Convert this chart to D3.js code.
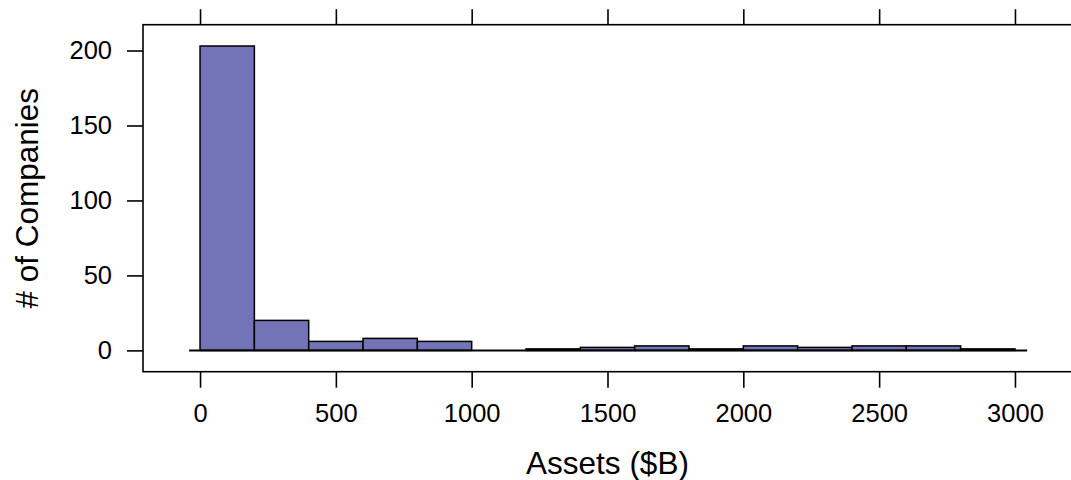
<!DOCTYPE html>
<html>
<head>
<meta charset="utf-8">
<script src="https://cdn.jsdelivr.net/npm/d3@7"></script>
<style>
  html, body { margin: 0; padding: 0; background: #fff; }
  svg { display: block; font-family: "Liberation Sans", Arial, Helvetica, sans-serif; }
</style>
</head>
<body>
<svg id="chart" width="1071" height="480"></svg>
<script>
// Histogram bins (Assets in $B) and company counts
const binStarts = [0, 200, 400, 600, 800, 1000, 1200, 1400, 1600, 1800, 2000, 2200, 2400, 2600, 2800];
const binEnds   = [200, 400, 600, 800, 1000, 1200, 1400, 1600, 1800, 2000, 2200, 2400, 2600, 2800, 3000];
const counts    = [203, 20, 6, 8, 6, 0, 1, 2, 3, 1, 3, 2, 3, 3, 1];
const xTicks = [0, 500, 1000, 1500, 2000, 2500, 3000];
const yTicks = [0, 50, 100, 150, 200];
const xTitle = "Assets ($B)";
const yTitle = "# of Companies";

(function () {
const svg = d3.select("#chart");
const pLeft = 143, pRight = 1072, pTop = 24.7, pBottom = 371.7;

const xDomain = [0 - 0.07 * 3000, 3000 + 0.07 * 3000];
const yMax = d3.max(counts);
const yDomain = [0 - 0.07 * yMax, yMax + 0.07 * yMax];

const x = d3.scaleLinear().domain(xDomain).range([pLeft, pRight]);
const y = d3.scaleLinear().domain(yDomain).range([pBottom, pTop]);

const bins = binStarts.map((s, i) => ({ x0: s, x1: binEnds[i], n: counts[i] }));

// bars
svg.append("g").selectAll("rect").data(bins).join("rect")
  .attr("x", d => x(d.x0))
  .attr("y", d => y(d.n))
  .attr("width", d => x(d.x1) - x(d.x0))
  .attr("height", d => y(0) - y(d.n))
  .attr("fill", "#7373b7")
  .attr("stroke", "#000")
  .attr("stroke-width", 1.5);

// baseline
svg.append("line")
  .attr("x1", x(-40)).attr("x2", x(3045))
  .attr("y1", y(0)).attr("y2", y(0))
  .attr("stroke", "#000").attr("stroke-width", 2);

// frame
svg.append("rect")
  .attr("x", pLeft).attr("y", pTop)
  .attr("width", pRight - pLeft).attr("height", pBottom - pTop)
  .attr("fill", "none").attr("stroke", "#000").attr("stroke-width", 1.6);

const tickFont = 25.5;
const xb = svg.append("g").attr("transform", `translate(0,${pBottom})`)
  .call(d3.axisBottom(x).tickValues(xTicks).tickSize(16).tickPadding(16.5).tickFormat(d3.format("d")));
const xt = svg.append("g").attr("transform", `translate(0,${pTop})`)
  .call(d3.axisTop(x).tickValues(xTicks).tickSize(15.5).tickFormat(""));
const yl = svg.append("g").attr("transform", `translate(${pLeft},0)`)
  .call(d3.axisLeft(y).tickValues(yTicks).tickSize(16).tickPadding(15).tickFormat(d3.format("d")));

[xb, xt, yl].forEach(g => {
  g.select(".domain").remove();
  g.selectAll(".tick line").attr("stroke", "#000").attr("stroke-width", 1.6);
  g.selectAll(".tick text").attr("fill", "#000").style("font-size", tickFont + "px")
    .style("font-family", "'Liberation Sans', Arial, sans-serif");
});

svg.append("text")
  .attr("x", (pLeft + pRight) / 2).attr("y", 474)
  .attr("text-anchor", "middle")
  .style("font-size", "31.5px").attr("fill", "#000")
  .text(xTitle);

svg.append("text")
  .attr("transform", `translate(38,${(pTop + pBottom) / 2}) rotate(-90)`)
  .attr("text-anchor", "middle")
  .style("font-size", "31.5px").attr("fill", "#000")
  .text(yTitle);
})();
</script>
</body>
</html>
